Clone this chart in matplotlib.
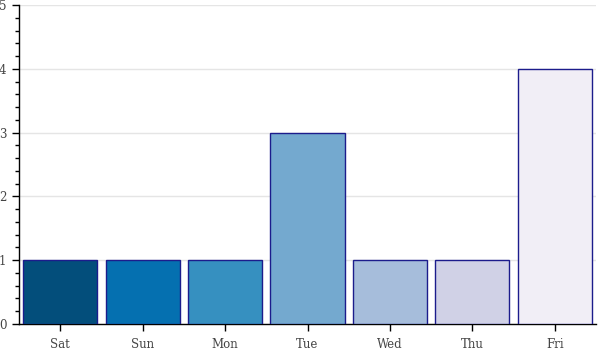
import matplotlib
matplotlib.use("Agg")
import matplotlib.pyplot as plt
from matplotlib.ticker import MultipleLocator

days = ["Sat", "Sun", "Mon", "Tue", "Wed", "Thu", "Fri"]
counts = [1, 1, 1, 3, 1, 1, 4]
colors = ["#034e7b", "#0570b0", "#3690c0", "#74a9cf", "#a6bddb", "#d0d1e6", "#f1eef6"]

plt.rcParams["font.family"] = "DejaVu Serif"

fig = plt.figure(figsize=(6, 3.5), dpi=100)
ax = fig.add_axes([19 / 600, 26 / 350, 577 / 600, 319 / 350])

x = range(len(days))
ax.bar(x, counts, width=0.9, color=colors, edgecolor="#1c1c8c", linewidth=1.0, zorder=3)

ax.set_xlim(-0.5, len(days) - 0.5)
ax.set_ylim(0, 5)
ax.set_xticks(list(x))
ax.set_xticklabels(days)
ax.yaxis.set_major_locator(MultipleLocator(1))
ax.yaxis.set_minor_locator(MultipleLocator(0.2))

ax.grid(axis="y", color="#e5e5e5", linewidth=1, zorder=0)
for s in ["top", "right"]:
    ax.spines[s].set_visible(False)
for s in ["left", "bottom"]:
    ax.spines[s].set_linewidth(1)
    ax.spines[s].set_color("black")

ax.tick_params(axis="both", which="major", direction="out", length=5, width=1,
               labelsize=8.5, labelcolor="#444444", pad=5)
ax.tick_params(axis="y", which="major", pad=4)
ax.tick_params(axis="y", which="minor", direction="out", length=3, width=1)
ax.tick_params(axis="x", which="minor", length=0)

fig.savefig("out.png", dpi=100)
